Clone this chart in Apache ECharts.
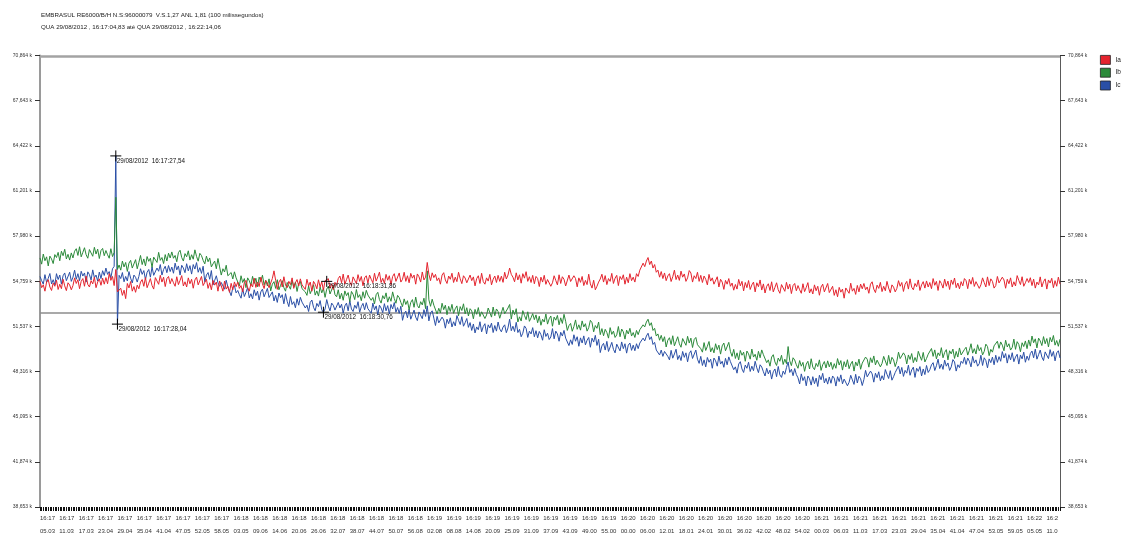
<!DOCTYPE html>
<html>
<head>
<meta charset="utf-8">
<script src="https://cdn.jsdelivr.net/npm/echarts@6/dist/echarts.min.js"></script>
<style>
  html, body { margin: 0; padding: 0; background: #fff; }
  #chart { width: 1122px; height: 538px; }
</style>
</head>
<body>
<div id="chart"></div>
<script>
// Header text of the recording
const headerLines = [
  'EMBRASUL RE6000/B/H N.S:96000079  V.S.1,27 ANL 1,81 (100 milissegundos)',
  'QUA 29/08/2012 , 16:17:04,83 até QUA 29/08/2012 , 16:22:14,06'
];

// Time ruler under the plot (hour:minute / second.fraction)
const tickTop = [
  '16:17','16:17','16:17','16:17','16:17','16:17','16:17','16:17','16:17','16:17',
  '16:18','16:18','16:18','16:18','16:18','16:18','16:18','16:18','16:18','16:18',
  '16:19','16:19','16:19','16:19','16:19','16:19','16:19','16:19','16:19','16:19',
  '16:20','16:20','16:20','16:20','16:20','16:20','16:20','16:20','16:20','16:20',
  '16:21','16:21','16:21','16:21','16:21','16:21','16:21','16:21','16:21','16:21','16:21',
  '16:22','16:2'
];
const tickBottom = [
  '05.03','11.03','17.03','23.04','29.04','35.04','41.04','47.05','52.05','58.05',
  '03.05','09.06','14.06','20.06','26.06','32.07','38.07','44.07','50.07','56.08',
  '02.08','08.08','14.08','20.09','25.09','31.09','37.09','43.09','49.00','55.00',
  '00.00','06.00','12.01','18.01','24.01','30.01','36.02','42.02','48.02','54.02',
  '00.03','06.03','11.03','17.03','23.03','29.04','35.04','41.04','47.04','53.05','59.05',
  '05.05','11.0'
];

// Vertical scale (k)
const yMin = 38.6531;
const yStep = 3.22109;
const yMax = 70.864;

// Reference levels drawn as horizontal guide lines (k)
const guideLevels = [70.80, 52.50];

// Phase currents, two samples per second (k), 20 samples per row
const Ia = [
  54.75,54.30,54.50,54.05,54.70,54.87,54.35,54.10,54.63,54.40,54.83,54.17,54.55,54.23,54.90,54.43,54.09,54.65,54.49,54.15,
  54.45,55.00,54.60,54.87,54.23,54.75,54.95,54.40,55.13,54.53,54.35,54.80,54.57,55.05,54.30,54.70,54.93,54.47,54.98,54.55,
  55.02,54.58,55.30,54.82,55.10,54.45,55.60,54.00,54.02,54.26,53.75,54.12,53.52,54.60,54.28,54.74,54.05,54.38,53.97,54.48,
  54.22,54.70,54.88,54.40,55.02,54.30,54.62,54.95,54.45,54.20,55.02,54.88,54.54,55.18,54.70,55.05,54.38,54.95,55.10,54.58,
  54.95,54.65,54.40,55.08,54.52,54.82,55.16,54.42,54.72,54.35,55.00,54.58,54.90,54.26,54.85,55.05,54.50,54.64,55.10,54.45,
  54.40,54.90,54.25,54.65,54.15,54.82,54.48,54.70,54.05,54.78,54.43,54.05,54.77,54.20,54.40,53.97,54.61,54.15,54.71,54.37,
  54.70,54.25,54.45,54.00,54.65,54.82,54.30,54.05,54.58,54.35,54.98,54.32,54.70,54.38,55.05,54.58,54.24,54.80,54.64,54.30,
  54.40,54.95,55.50,54.82,54.18,54.70,54.90,54.35,55.08,54.48,54.30,54.75,54.52,55.00,54.25,54.65,54.88,54.42,54.93,54.50,
  54.62,54.18,54.90,54.42,54.70,54.05,54.75,54.55,54.22,54.86,54.35,54.72,54.12,54.80,54.75,54.94,54.25,54.58,54.17,54.68,
  54.47,54.95,55.13,54.65,55.27,54.55,54.87,55.20,54.70,54.45,55.07,54.93,54.59,55.23,54.75,55.10,54.43,55.00,55.15,54.63,
  55.20,54.90,54.65,55.33,54.77,55.07,55.41,54.67,54.97,54.60,55.25,54.83,55.15,54.51,55.10,55.30,54.75,54.89,55.35,54.70,
  54.90,55.40,54.75,55.15,54.65,55.32,54.98,55.20,54.55,55.28,55.08,54.70,55.42,54.85,55.05,56.10,55.26,54.80,55.36,55.02,
  55.25,54.80,55.00,54.55,55.20,55.37,54.85,54.60,55.13,54.90,55.33,54.67,55.05,54.73,55.40,54.93,54.59,55.15,54.99,54.65,
  54.65,55.20,54.80,55.07,54.43,54.95,55.15,54.60,55.33,54.73,54.55,55.00,54.77,55.25,54.50,54.90,55.13,54.67,55.18,54.75,
  55.12,54.68,55.40,54.92,55.20,55.70,55.25,55.05,54.72,55.36,54.85,55.22,54.62,55.30,54.98,55.44,54.75,55.08,54.67,55.18,
  54.58,55.10,54.95,54.38,55.05,54.70,55.18,54.54,54.88,55.02,54.40,54.65,55.15,54.82,54.50,55.22,54.60,55.08,54.90,54.42,
  54.55,55.20,54.74,54.60,55.15,54.95,54.36,55.00,54.68,55.10,54.45,54.82,54.52,55.26,54.57,54.27,54.83,54.15,54.40,54.70,
  54.92,55.26,54.70,55.16,54.52,54.95,54.75,55.32,54.60,54.98,55.18,54.45,55.10,54.88,55.22,54.55,55.05,54.65,55.30,54.80,
  55.05,54.70,55.30,55.10,55.55,55.45,56.05,55.80,56.20,56.45,55.95,56.20,55.70,55.95,55.40,55.55,55.05,55.45,54.95,55.35,
  54.80,55.14,55.30,54.74,55.08,55.55,54.88,55.20,54.82,55.48,55.05,55.28,54.75,55.00,55.52,55.35,54.70,55.15,54.95,55.40,
  54.75,55.18,54.67,55.13,54.90,54.50,55.25,54.77,55.00,54.55,54.48,55.08,54.35,54.90,54.70,54.18,54.82,54.55,54.95,54.40,
  54.63,54.12,54.53,54.20,54.89,54.43,54.75,54.07,54.67,54.30,54.81,54.17,54.50,54.70,54.00,54.65,54.37,54.85,54.13,54.57,
  53.92,54.40,54.58,54.10,54.72,54.00,54.32,54.65,54.15,53.90,54.52,54.38,54.04,54.68,54.20,54.55,53.88,54.45,54.60,54.08,
  54.45,54.15,53.90,54.58,54.02,54.32,54.66,53.92,54.22,53.85,54.50,54.08,54.40,53.76,54.35,54.55,54.00,54.14,54.60,53.95,
  53.90,54.40,53.75,54.15,53.65,54.32,53.98,54.20,53.55,54.28,54.28,53.90,54.62,54.05,54.25,53.82,54.46,54.00,54.56,54.22,
  54.60,54.15,54.35,53.90,54.55,54.72,54.20,53.95,54.48,54.25,54.68,54.02,54.40,54.08,54.75,54.28,53.94,54.50,54.34,54.00,
  54.25,54.80,54.40,54.67,54.03,54.55,54.75,54.20,54.93,54.33,54.15,54.60,54.37,54.85,54.10,54.50,54.73,54.27,54.78,54.35,
  54.67,54.23,54.95,54.47,54.75,54.10,54.80,54.60,54.27,54.91,54.40,54.77,54.17,54.85,54.53,54.99,54.30,54.63,54.22,54.73,
  54.43,54.95,54.80,54.23,54.90,54.55,55.03,54.39,54.73,54.87,54.25,54.50,55.00,54.67,54.35,55.07,54.45,54.93,54.75,54.27,
  54.45,55.10,54.64,54.50,55.05,54.85,54.26,54.90,54.58,55.00,54.35,54.72,54.42,55.16,54.82,54.52,55.08,54.40,54.65,54.95,
  54.67,55.01,54.45,54.91,54.27,54.70,54.50,55.07,54.35,54.73,54.93,54.20,54.85,54.63,54.97,54.30,54.80,54.40,55.05,54.55
];
const Ib = [
  56.42,55.98,56.70,56.22,56.50,55.85,56.55,56.35,56.02,56.66,56.45,56.82,56.22,56.90,56.58,57.04,56.35,56.68,56.27,56.78,
  56.42,56.90,57.08,56.60,57.22,56.50,56.82,57.15,56.65,56.40,57.02,56.88,56.54,57.18,56.70,57.05,56.38,56.95,57.10,56.58,
  56.95,56.65,56.40,57.08,56.52,56.82,60.75,55.60,55.92,55.55,56.20,55.78,56.10,55.46,56.05,56.25,55.70,55.84,56.30,55.65,
  56.10,56.60,55.95,56.35,55.85,56.52,56.18,56.40,55.75,56.48,56.48,56.10,56.82,56.25,56.45,56.02,56.66,56.20,56.76,56.42,
  56.85,56.40,56.60,56.15,56.80,56.97,56.45,56.20,56.73,56.50,56.93,56.27,56.65,56.33,57.00,56.53,56.19,56.75,56.59,56.25,
  56.00,56.55,56.15,56.42,55.78,56.00,56.20,55.65,56.38,55.78,55.20,55.65,55.42,55.90,55.15,55.15,55.38,54.92,55.43,55.00,
  54.87,54.43,55.15,54.67,54.95,54.30,55.00,54.80,54.47,55.11,54.60,54.97,54.37,55.05,54.73,55.19,54.50,54.83,54.42,54.93,
  54.07,54.55,54.73,54.25,54.87,54.15,54.47,54.80,54.30,54.05,54.67,54.53,54.19,54.83,54.35,54.70,54.03,54.60,54.75,54.23,
  54.30,54.00,53.75,54.43,53.87,54.17,54.51,53.77,54.07,53.70,54.35,53.93,54.25,53.61,54.20,54.40,53.85,53.99,54.45,53.80,
  53.65,54.15,53.50,53.90,53.40,54.07,53.73,53.95,53.30,54.03,53.83,53.45,54.17,53.60,53.80,53.37,54.01,53.55,54.11,53.77,
  53.85,53.40,53.60,53.15,53.80,53.97,53.45,53.20,53.73,53.50,53.93,53.27,53.65,53.33,54.00,53.53,53.19,53.75,53.59,53.25,
  52.95,53.50,53.10,53.37,52.73,53.25,53.45,52.90,53.63,53.03,52.85,53.30,53.07,53.55,52.80,55.50,53.43,52.97,53.48,53.05,
  52.93,52.42,52.83,52.50,53.19,52.73,53.05,52.37,52.97,52.60,53.11,52.47,52.80,53.00,52.30,52.95,52.67,53.15,52.43,52.87,
  52.28,52.80,52.65,52.08,52.75,52.40,52.88,52.24,52.58,52.72,52.10,52.35,52.85,52.52,52.20,52.92,52.30,52.78,52.60,52.12,
  52.25,52.90,52.44,52.30,52.85,53.10,52.06,52.70,52.38,52.80,51.85,52.22,51.92,52.66,52.32,52.02,52.58,51.90,52.15,52.45,
  52.02,52.36,51.80,52.26,51.62,52.05,51.85,52.42,51.70,52.08,52.28,51.55,52.20,51.98,52.32,51.65,52.15,51.75,52.40,51.90,
  51.25,51.59,51.75,51.19,51.53,52.00,51.33,51.65,51.27,51.93,51.50,51.73,51.20,51.45,51.97,51.80,51.15,51.60,51.40,51.85,
  50.95,51.38,50.87,51.33,51.10,50.70,51.45,50.97,51.20,50.75,50.93,51.53,50.80,51.35,51.15,50.63,51.27,51.00,51.40,50.85,
  51.10,50.75,51.25,50.95,51.30,51.25,51.65,51.50,51.85,52.05,51.60,51.80,51.25,51.40,50.85,51.00,50.55,50.90,50.45,50.80,
  50.07,50.55,50.73,50.25,50.87,50.15,50.47,50.80,50.30,50.05,50.67,50.53,50.19,50.83,50.35,50.70,50.03,50.60,50.75,50.23,
  50.25,49.95,49.70,50.38,49.82,50.12,50.46,49.72,50.02,49.65,50.30,49.88,50.20,49.56,50.15,50.35,49.80,49.94,50.40,49.75,
  49.40,49.90,49.25,49.65,49.15,49.82,49.48,49.70,49.05,49.78,49.58,49.20,49.92,49.35,49.55,49.12,49.76,49.30,49.86,49.52,
  49.40,48.95,49.15,48.70,49.35,49.52,49.00,48.75,49.28,49.05,49.48,48.82,49.20,48.88,50.10,49.08,48.74,49.30,49.14,48.80,
  48.55,49.10,48.70,48.97,48.33,48.85,49.05,48.50,49.23,48.63,48.45,48.90,48.67,49.15,48.40,48.80,49.03,48.57,49.08,48.65,
  48.98,48.47,48.88,48.55,49.24,48.78,49.10,48.42,49.02,48.65,49.16,48.52,48.85,49.05,48.35,49.00,48.72,49.20,48.48,48.92,
  48.83,49.35,49.20,48.63,49.30,48.95,49.43,48.79,49.13,49.27,48.65,48.90,49.40,49.07,48.75,49.47,48.85,49.33,49.15,48.67,
  49.05,49.70,49.24,49.10,49.65,49.45,48.86,49.50,49.18,49.60,48.95,49.32,49.02,49.76,49.42,49.12,49.68,49.00,49.25,49.55,
  49.62,49.96,49.40,49.86,49.22,49.65,49.45,50.02,49.30,49.68,49.88,49.15,49.80,49.58,49.92,49.25,49.75,49.35,50.00,49.50,
  49.55,49.89,50.05,49.49,49.83,50.30,49.63,49.95,49.57,50.23,49.80,50.03,49.50,49.75,50.27,50.10,49.45,49.90,49.70,50.15,
  50.05,50.48,49.97,50.43,50.20,49.80,50.55,50.07,50.30,49.85,50.03,50.63,49.90,50.45,50.25,49.73,50.37,50.10,50.50,49.95,
  50.57,50.13,50.85,50.37,50.65,50.00,50.70,50.50,50.17,50.81,50.30,50.67,50.07,50.75,50.43,50.89,50.20,50.53,50.12,50.63
];
const Ic = [
  55.10,54.80,54.55,55.23,54.67,54.97,55.31,54.57,54.87,54.50,55.30,54.88,55.20,54.56,55.15,55.35,54.80,54.94,55.40,54.75,
  55.05,55.55,54.90,55.30,54.80,55.47,55.13,55.35,54.70,55.43,55.23,54.85,55.57,55.00,55.20,54.77,55.41,54.95,55.51,55.17,
  55.70,55.25,55.45,55.00,55.65,55.82,63.70,51.70,55.18,54.95,55.38,54.72,55.10,54.78,55.45,54.98,54.64,55.20,55.04,54.70,
  55.10,55.65,55.25,55.52,54.88,55.40,55.60,55.05,55.78,55.18,55.25,55.70,55.47,55.95,55.20,55.60,55.83,55.37,55.88,55.45,
  55.77,55.33,56.05,55.57,55.85,55.20,55.90,55.70,55.37,56.01,55.50,55.87,55.27,55.95,55.63,56.09,55.40,55.73,55.32,55.83,
  54.72,55.20,55.38,54.90,55.52,54.50,54.82,55.15,54.65,54.40,54.67,54.53,54.19,54.83,54.35,54.40,53.73,54.30,54.45,53.93,
  54.10,53.80,53.55,54.23,53.67,53.97,54.31,53.57,53.87,53.50,54.15,53.73,54.05,53.41,54.00,54.20,53.65,53.79,54.25,53.60,
  53.50,54.00,53.35,53.75,53.25,53.92,53.58,53.80,53.15,53.88,53.33,52.95,53.67,53.10,53.30,52.87,53.51,53.05,53.61,53.27,
  53.30,52.85,53.05,52.60,53.25,53.42,52.90,52.65,53.18,52.95,53.38,52.72,52.55,52.78,53.45,52.98,52.64,53.20,53.04,52.70,
  52.70,53.25,52.85,53.12,52.48,53.00,53.20,52.65,53.38,52.78,52.60,53.05,52.82,53.30,52.55,52.95,53.18,52.72,53.23,52.80,
  52.92,52.48,53.20,52.72,53.00,52.35,53.05,52.85,52.52,53.16,52.65,53.02,52.42,53.10,52.78,53.24,52.55,52.88,52.47,52.98,
  51.97,52.45,52.63,52.15,52.77,52.05,52.37,52.70,52.20,51.95,52.57,52.43,52.09,52.73,52.25,53.00,51.93,52.50,52.65,52.13,
  51.60,52.25,51.79,51.65,52.20,52.00,51.41,52.05,51.73,52.15,51.50,51.87,51.57,52.31,51.97,51.67,52.23,51.55,51.80,52.10,
  51.47,51.81,51.25,51.71,51.07,51.50,51.30,51.87,51.15,51.53,51.73,51.00,51.65,51.43,51.77,51.10,51.60,51.20,51.85,51.35,
  51.15,51.49,51.65,51.09,51.43,52.05,51.23,51.55,51.17,51.83,51.10,51.33,50.80,51.05,51.57,51.40,50.75,51.20,51.00,51.45,
  50.80,51.23,50.72,51.18,50.95,50.55,51.30,50.82,51.05,50.60,50.78,51.38,50.65,51.20,51.00,50.48,51.12,50.85,51.25,50.70,
  50.68,50.17,50.58,50.25,50.94,50.48,50.80,50.12,50.72,50.35,50.86,50.22,50.55,50.75,50.05,50.70,50.42,50.90,50.18,50.62,
  49.67,50.15,50.33,49.85,50.47,49.75,50.07,50.40,49.90,49.65,50.27,50.13,49.79,50.43,49.95,50.30,49.63,50.20,50.35,49.83,
  50.20,49.80,50.30,49.95,50.35,50.25,50.70,50.50,50.85,51.05,50.60,50.80,50.25,50.40,49.85,49.95,49.50,49.85,49.40,49.75,
  49.70,49.40,49.15,49.83,49.27,49.57,49.91,49.17,49.47,49.10,49.75,49.33,49.65,49.01,49.60,49.80,49.25,49.39,49.85,49.20,
  48.90,49.40,48.75,49.15,48.65,49.32,48.98,49.20,48.55,49.28,49.08,48.70,49.42,48.85,49.05,48.62,49.26,48.80,49.36,49.02,
  48.90,48.45,48.65,48.20,48.85,49.02,48.50,48.25,48.78,48.55,48.98,48.32,48.70,48.38,49.05,48.58,48.24,48.80,48.64,48.30,
  48.00,48.55,48.15,48.42,47.78,48.30,48.50,47.95,48.68,48.08,47.90,48.35,48.12,48.60,49.00,48.25,48.48,48.02,48.53,48.10,
  47.87,47.43,48.15,47.67,47.95,47.30,48.00,47.80,47.35,47.95,47.45,47.85,47.25,48.05,47.73,48.19,47.50,47.83,47.42,47.93,
  47.48,48.00,47.85,47.28,47.95,47.60,48.08,47.44,47.78,47.92,47.30,47.55,48.05,47.72,47.40,48.12,47.50,47.98,47.80,47.32,
  47.75,48.40,47.94,47.80,48.35,48.15,47.56,48.20,47.88,48.30,47.65,48.02,47.72,48.46,48.12,47.82,48.38,47.70,47.95,48.25,
  48.37,48.71,48.15,48.61,47.97,48.40,48.20,48.77,48.05,48.43,48.63,47.90,48.55,48.33,48.67,48.00,48.50,48.10,48.75,48.25,
  48.45,48.79,48.95,48.39,48.73,49.20,48.53,48.85,48.47,49.13,48.70,48.93,48.40,48.65,49.17,49.00,48.35,48.80,48.60,49.05,
  48.90,49.33,48.82,49.28,49.05,48.65,49.40,48.92,49.15,48.70,48.88,49.48,48.75,49.30,49.10,48.58,49.22,48.95,49.35,48.80,
  49.48,48.97,49.38,49.05,49.74,49.28,49.60,48.92,49.52,49.15,49.66,49.02,49.35,49.55,48.85,49.50,49.22,49.70,48.98,49.42,
  49.12,49.60,49.78,49.30,49.92,49.20,49.52,49.85,49.35,49.10,49.72,49.58,49.24,49.88,49.40,49.75,49.08,49.65,49.80,49.28
];

// Cursor readouts: which phase, which sample, and the time stamp shown
const cursors = [
  { phase: 'Ic', sample: 46, stamp: '29/08/2012  16:17:27,54' },
  { phase: 'Ic', sample: 47, stamp: '29/08/2012  16:17:28,04' },
  { phase: 'Ia', sample: 174, stamp: '29/08/2012  16:18:31,86' },
  { phase: 'Ic', sample: 172, stamp: '29/08/2012  16:18:30,76' }
];

const phases = { Ia: Ia, Ib: Ib, Ic: Ic };
const phaseColors = { Ia: '#e4242e', Ib: '#2b8a3a', Ic: '#2a4fa6' };
const FONT = '"Liberation Sans", Arial, sans-serif';
const sampleAxis = Ia.map((_, i) => String(i));

function kLabel(v) {
  return v.toFixed(3).replace('.', ',') + ' k';
}

function cursorPoints(name) {
  return cursors.filter(c => c.phase === name).map(c => ({
    coord: [String(c.sample), phases[c.phase][c.sample]],
    name: c.stamp
  }));
}

function yAxisFor(side) {
  return {
    type: 'value',
    position: side,
    min: yMin,
    max: yMax,
    interval: yStep,
    axisLine: {
      show: true,
      lineStyle: side === 'left' ? { color: '#9a9a9a', width: 2 } : { color: '#5a5a5a', width: 1 }
    },
    axisTick: { show: true, length: 5, lineStyle: { color: '#333', width: 1 } },
    axisLabel: {
      formatter: kLabel,
      fontSize: 5,
      fontFamily: FONT,
      color: '#333',
      margin: 8
    },
    splitLine: { show: false }
  };
}

function lineSeries(name, z) {
  const s = {
    name: name,
    type: 'line',
    xAxisIndex: 0,
    yAxisIndex: 0,
    data: phases[name],
    showSymbol: false,
    symbol: 'none',
    sampling: 'none',
    z: z,
    lineStyle: { width: 1, color: phaseColors[name] },
    itemStyle: { color: phaseColors[name] },
    emphasis: { disabled: true },
    markPoint: {
      symbol: 'path://M6,0L6,12M0,6L12,6',
      symbolSize: 11,
      silent: true,
      itemStyle: { color: 'rgba(0,0,0,0)', borderColor: '#000', borderWidth: 1 },
      label: {
        show: true,
        position: [7, 8],
        formatter: p => p.name,
        fontSize: 6.3,
        fontFamily: FONT,
        color: '#111'
      },
      data: cursorPoints(name)
    }
  };
  if (name === 'Ia') {
    s.markLine = {
      silent: true,
      symbol: ['none', 'none'],
      label: { show: false },
      z: 1,
      data: [
        { yAxis: guideLevels[0], lineStyle: { color: '#a3a3a3', width: 2.5, type: 'solid' } },
        { yAxis: guideLevels[1], lineStyle: { color: '#8c8c8c', width: 1.5, type: 'solid' } }
      ]
    };
  }
  return s;
}

const chart = echarts.init(document.getElementById('chart'), null, { renderer: 'canvas' });
chart.setOption({
  animation: false,
  backgroundColor: '#ffffff',
  title: {
    text: headerLines.join('\n'),
    left: 36,
    top: 5,
    textStyle: { fontSize: 6.2, lineHeight: 11.5, fontWeight: 'normal', color: '#222', fontFamily: FONT }
  },
  legend: {
    orient: 'vertical',
    left: 1095,
    top: 50,
    icon: 'rect',
    itemWidth: 10,
    itemHeight: 9,
    itemGap: 3,
    selectedMode: false,
    itemStyle: { borderColor: '#222', borderWidth: 0.8 },
    textStyle: { fontSize: 6.5, color: '#222', fontFamily: FONT },
    data: ['Ia', 'Ib', 'Ic']
  },
  grid: { left: 40, right: 62, top: 55.5, bottom: 22.5, containLabel: false },
  xAxis: [
    {
      type: 'category',
      data: sampleAxis,
      boundaryGap: false,
      position: 'bottom',
      axisLine: { show: false, onZero: false },
      axisTick: { show: true, interval: 0, length: 4, lineStyle: { color: '#111', width: 1 } },
      axisLabel: { show: false },
      splitLine: { show: false }
    },
    {
      type: 'value',
      position: 'bottom',
      min: 0,
      max: 52.7,
      interval: 1,
      axisLine: { show: false, onZero: false },
      axisTick: { show: false },
      splitLine: { show: false },
      axisLabel: {
        formatter: v => (Number.isInteger(v) && v < tickTop.length) ? tickTop[v] + '\n' + tickBottom[v] : '',
        align: 'left',
        fontSize: 6,
        lineHeight: 13,
        fontFamily: FONT,
        color: '#333',
        margin: 5,
        showMaxLabel: false
      }
    }
  ],
  yAxis: [yAxisFor('left'), yAxisFor('right')],
  series: [lineSeries('Ia', 4), lineSeries('Ib', 3), lineSeries('Ic', 2)]
});
</script>
</body>
</html>
